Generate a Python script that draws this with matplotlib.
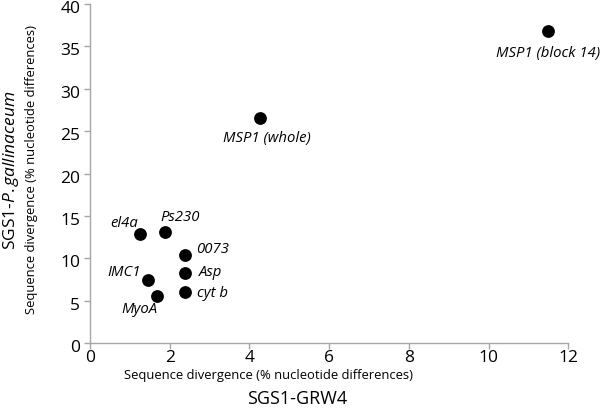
import matplotlib
matplotlib.use("Agg")
import matplotlib.pyplot as plt
import matplotlib.transforms as mtransforms

# gene divergence values
genes = ["el4a", "Ps230", "0073", "Asp", "cyt b", "IMC1", "MyoA",
         "MSP1 (whole)", "MSP1 (block 14)"]
grw4 = [1.26, 1.88, 2.38, 2.38, 2.38, 1.46, 1.67, 4.27, 11.5]
gallinaceum = [12.9, 13.1, 10.4, 8.3, 6.05, 7.4, 5.5, 26.5, 36.85]

# label offsets (pixels) from each dot
offsets = [(-16, 10), (15, 15), (28, 5), (26, 0), (28, -2),
           (-24, 8), (-17, -13), (7, -20), (0, -23)]

plt.rcParams['font.family'] = ['Open Sans', 'DejaVu Sans']
plt.rcParams['mathtext.fontset'] = 'custom'
plt.rcParams['mathtext.it'] = 'Open Sans:italic'
plt.rcParams['mathtext.rm'] = 'Open Sans'

grey = '#a6a6a6'

fig = plt.figure(figsize=(6, 4.13), dpi=100)
ax = fig.add_axes([0.15, 0.1695, 0.797, 0.8205])

ax.scatter(grw4, gallinaceum, s=85, color='black', zorder=3, linewidths=0)

for g, x, y, off in zip(genes, grw4, gallinaceum, offsets):
    ax.annotate(g, (x, y), xytext=off, textcoords='offset pixels',
                ha='center', va='center', fontsize=10.7, style='italic')

ax.set_xlim(0, 12)
ax.set_ylim(0, 40)
ax.set_xticks(range(0, 13, 2))
ax.set_yticks(range(0, 41, 5))

for s in ['top', 'right']:
    ax.spines[s].set_visible(False)
for s in ['left', 'bottom']:
    ax.spines[s].set_color(grey)
    ax.spines[s].set_linewidth(1)
ax.tick_params(axis='both', colors=grey, labelcolor='black', labelsize=12.5,
               length=4, width=1)
ax.tick_params(axis='x', pad=1)
ax.tick_params(axis='y', pad=3)

# y tick labels sit a little below their ticks in the original
shift = mtransforms.ScaledTranslation(0, -3 / 100, fig.dpi_scale_trans)
for lab in ax.get_yticklabels():
    lab.set_transform(lab.get_transform() + shift)

fig.text(0.5 * (125 + 413) / 600, 1 - 375 / 413,
         "Sequence divergence (% nucleotide differences)",
         ha='center', va='center', fontsize=9.4)
fig.text(297.5 / 600, 1 - 399 / 413, "SGS1-GRW4",
         ha='center', va='center', fontsize=13)
fig.text(31.5 / 600, 1 - 169 / 413,
         "Sequence divergence (% nucleotide differences)",
         ha='center', va='center', fontsize=9.4, rotation=90)
fig.text(11 / 600, 1 - 170 / 413, r"SGS1-$\it{P.gallinaceum}$",
         ha='center', va='center', fontsize=12.5, rotation=90)

fig.savefig("out.png", dpi=100)
